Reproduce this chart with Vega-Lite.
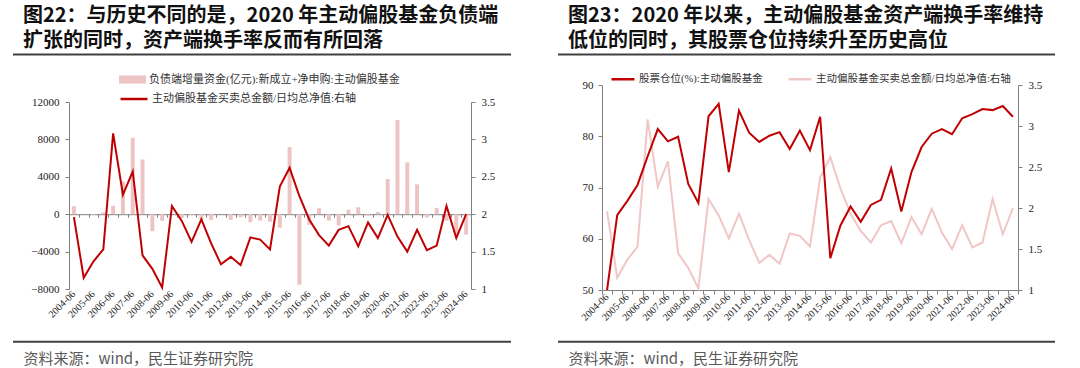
{
  "$schema": "https://vega.github.io/schema/vega-lite/v6.json",
  "padding": {"left": 12, "top": 6, "right": 4, "bottom": 2},
  "background": "white",
  "data": {"values": [
      {"date": "2004-06", "flow": 850, "turnover": 1.96, "position": 50.0},
      {"date": "2004-12", "flow": 0, "turnover": 1.15, "position": 64.6},
      {"date": "2005-06", "flow": -70, "turnover": 1.37, "position": 67.4},
      {"date": "2005-12", "flow": 180, "turnover": 1.53, "position": 70.5},
      {"date": "2006-06", "flow": 900, "turnover": 3.08, "position": 76.1},
      {"date": "2006-12", "flow": 3490, "turnover": 2.26, "position": 81.4},
      {"date": "2007-06", "flow": 8170, "turnover": 2.57, "position": 79.0},
      {"date": "2007-12", "flow": 5850, "turnover": 1.45, "position": 79.9},
      {"date": "2008-06", "flow": -1820, "turnover": 1.27, "position": 70.7},
      {"date": "2008-12", "flow": -700, "turnover": 1.02, "position": 67.0},
      {"date": "2009-06", "flow": 0, "turnover": 2.11, "position": 83.9},
      {"date": "2009-12", "flow": -400, "turnover": 1.91, "position": 86.3},
      {"date": "2010-06", "flow": -120, "turnover": 1.63, "position": 73.0},
      {"date": "2010-12", "flow": -600, "turnover": 1.93, "position": 85.0},
      {"date": "2011-06", "flow": -600, "turnover": 1.61, "position": 80.7},
      {"date": "2011-12", "flow": 0, "turnover": 1.33, "position": 78.9},
      {"date": "2012-06", "flow": -600, "turnover": 1.43, "position": 80.1},
      {"date": "2012-12", "flow": -320, "turnover": 1.32, "position": 80.8},
      {"date": "2013-06", "flow": -850, "turnover": 1.69, "position": 77.5},
      {"date": "2013-12", "flow": -680, "turnover": 1.66, "position": 81.1},
      {"date": "2014-06", "flow": -820, "turnover": 1.53, "position": 77.3},
      {"date": "2014-12", "flow": -1450, "turnover": 2.37, "position": 83.8},
      {"date": "2015-06", "flow": 7200, "turnover": 2.62, "position": 56.2},
      {"date": "2015-12", "flow": -7550, "turnover": 2.24, "position": 62.6},
      {"date": "2016-06", "flow": -1140, "turnover": 1.93, "position": 66.3},
      {"date": "2016-12", "flow": 640, "turnover": 1.72, "position": 63.3},
      {"date": "2017-06", "flow": -690, "turnover": 1.58, "position": 66.6},
      {"date": "2017-12", "flow": -1200, "turnover": 1.79, "position": 67.6},
      {"date": "2018-06", "flow": 480, "turnover": 1.84, "position": 73.7},
      {"date": "2018-12", "flow": 730, "turnover": 1.57, "position": 65.3},
      {"date": "2019-06", "flow": -180, "turnover": 1.89, "position": 73.0},
      {"date": "2019-12", "flow": 230, "turnover": 1.68, "position": 77.9},
      {"date": "2020-06", "flow": 3760, "turnover": 1.99, "position": 80.5},
      {"date": "2020-12", "flow": 10080, "turnover": 1.70, "position": 81.4},
      {"date": "2021-06", "flow": 5540, "turnover": 1.50, "position": 80.4},
      {"date": "2021-12", "flow": 3190, "turnover": 1.79, "position": 83.5},
      {"date": "2022-06", "flow": -350, "turnover": 1.52, "position": 84.3},
      {"date": "2022-12", "flow": 660, "turnover": 1.58, "position": 85.3},
      {"date": "2023-06", "flow": -700, "turnover": 2.11, "position": 85.1},
      {"date": "2023-12", "flow": -2140, "turnover": 1.68, "position": 85.9},
      {"date": "2024-06", "flow": -2170, "turnover": 2.00, "position": 83.8}
  ]},
  "config": {
    "view": {"stroke": null},
    "axis": {"labelFont": "Liberation Serif", "labelFontSize": 11, "labelColor": "#222222", "domainColor": "#808080", "tickColor": "#808080", "grid": false, "tickSize": 4},
    "legend": {"labelFont": "Liberation Serif, Noto Sans CJK SC", "labelFontSize": 11, "labelColor": "#333333", "labelLimit": 400}
  },
  "spacing": 45,
  "resolve": {
    "scale": {"color": "independent", "fill": "independent", "stroke": "independent"},
    "legend": {"color": "independent", "fill": "independent", "stroke": "independent"}
  },
  "hconcat": [
    {
      "width": 498,
      "height": 205,
      "title": {"text": ["图22：与历史不同的是，2020 年主动偏股基金负债端", "扩张的同时，资产端换手率反而有所回落"], "anchor": "start", "dx": 11, "fontSize": 20, "fontWeight": "bold", "color": "#111111", "lineHeight": 24.5, "offset": 3, "font": "Noto Sans CJK SC"},
      "layer": [
        {
          "data": {"values": [{"edge": 0}, {"edge": 1}]},
          "mark": {"type": "rule", "color": "#404040", "strokeWidth": 2},
          "encoding": {"y": {"field": "edge", "type": "quantitative", "scale": {"domain": [0, 1], "range": [256.7, -30.5]}, "axis": null}}
        },
        {
          "mark": {"type": "rule", "opacity": 0},
          "encoding": {"x": {"datum": 0, "type": "quantitative", "scale": {"domain": [0, 1]},
            "axis": {"orient": "bottom", "offset": 51.7, "domain": false, "ticks": false, "labels": false, "title": "资料来源：wind，民生证券研究院", "titleAnchor": "start", "titleAlign": "left", "titleBaseline": "middle", "titleX": 10, "titleY": 16.3, "titleFont": "Noto Sans CJK SC", "titleFontSize": 15, "titleFontWeight": "normal", "titleColor": "#595959"}}}
        },
        {
          "mark": {"type": "bar", "width": {"band": 0.4}},
          "encoding": {
            "x": {"field": "date", "type": "ordinal", "sort": null, "title": null,
              "scale": {"type": "band", "paddingInner": 0, "paddingOuter": 0, "range": [56, 458]},
              "axis": {"orient": "bottom", "offset": -1, "domain": false, "ticks": false, "labelAngle": -45, "labelAlign": "right", "labelBaseline": "middle", "labelFontSize": 10, "labelPadding": 3, "labelOverlap": false, "labelExpr": "indexof(datum.value, '-06') > 0 ? datum.value : ''"}},
            "y": {"field": "flow", "type": "quantitative", "title": null,
              "scale": {"domain": [-8000, 12000], "nice": false, "zero": false, "range": [204, 17]},
              "axis": {"orient": "left", "offset": -56, "values": [-8000, -4000, 0, 4000, 8000, 12000], "format": "d", "labelPadding": 6}},
            "fill": {"datum": "负债端增量资金(亿元):新成立+净申购:主动偏股基金", "type": "nominal",
              "scale": {"range": ["#EEC3C3"]},
              "legend": {"orient": "none", "legendX": 106, "legendY": -19, "title": null, "symbolType": "M-1,-0.3H1V0.3H-1Z", "symbolSize": 729, "symbolStrokeWidth": 0, "labelOffset": 3}}
          }
        },
        {
          "mark": {"type": "line", "strokeWidth": 2},
          "encoding": {
            "x": {"field": "date", "type": "ordinal", "sort": null, "bandPosition": 0.5, "title": null,
              "scale": {"type": "band", "paddingInner": 0, "paddingOuter": 0, "range": [56, 458]},
              "axis": {"orient": "bottom", "offset": -75.8, "labels": false, "domain": true, "ticks": true, "tickBand": "extent", "tickSize": 3}},
            "y": {"field": "turnover", "type": "quantitative", "title": null,
              "scale": {"domain": [1, 3.5], "nice": false, "zero": false, "range": [204, 17]},
              "axis": {"orient": "right", "offset": -40, "values": [1, 1.5, 2, 2.5, 3, 3.5], "format": "~g", "labelPadding": 6}},
            "stroke": {"datum": "主动偏股基金买卖总金额/日均总净值:右轴", "type": "nominal",
              "scale": {"range": ["#C00000"]},
              "legend": {"orient": "none", "legendX": 106, "legendY": -1, "title": null, "symbolType": "stroke", "symbolSize": 729, "symbolStrokeWidth": 2.5, "labelOffset": 3}}
          }
        }
      ],
      "resolve": {"scale": {"x": "independent", "y": "independent"}, "axis": {"x": "independent", "y": "independent"}}
    },
    {
      "width": 497,
      "height": 205,
      "title": {"text": ["图23：2020 年以来，主动偏股基金资产端换手率维持", "低位的同时，其股票仓位持续升至历史高位"], "anchor": "start", "dx": 11, "fontSize": 20, "fontWeight": "bold", "color": "#111111", "lineHeight": 24.5, "offset": 3, "font": "Noto Sans CJK SC"},
      "layer": [
        {
          "data": {"values": [{"edge": 0}, {"edge": 1}]},
          "mark": {"type": "rule", "color": "#404040", "strokeWidth": 2},
          "encoding": {"y": {"field": "edge", "type": "quantitative", "scale": {"domain": [0, 1], "range": [256.7, -30.5]}, "axis": null}}
        },
        {
          "mark": {"type": "rule", "opacity": 0},
          "encoding": {"x": {"datum": 0, "type": "quantitative", "scale": {"domain": [0, 1]},
            "axis": {"orient": "bottom", "offset": 51.7, "domain": false, "ticks": false, "labels": false, "title": "资料来源：wind，民生证券研究院", "titleAnchor": "start", "titleAlign": "left", "titleBaseline": "middle", "titleX": 10, "titleY": 16.3, "titleFont": "Noto Sans CJK SC", "titleFontSize": 15, "titleFontWeight": "normal", "titleColor": "#595959"}}}
        },
        {
          "mark": {"type": "line", "strokeWidth": 2},
          "encoding": {
            "x": {"field": "date", "type": "ordinal", "sort": null, "bandPosition": 0.5, "title": null,
              "scale": {"type": "band", "paddingInner": 0, "paddingOuter": 0, "range": [44, 460]},
              "axis": {"orient": "bottom", "domain": false, "ticks": false, "labelAngle": -45, "labelAlign": "right", "labelBaseline": "middle", "labelFontSize": 10, "labelPadding": 5, "labelOverlap": false, "labelExpr": "indexof(datum.value, '-06') > 0 ? datum.value : ''"}},
            "y": {"field": "turnover", "type": "quantitative", "title": null,
              "scale": {"domain": [1, 3.5], "nice": false, "zero": false},
              "axis": {"orient": "right", "offset": -37, "values": [1, 1.5, 2, 2.5, 3, 3.5], "format": "~g", "labelPadding": 6}},
            "color": {"datum": "主动偏股基金买卖总金额/日均总净值:右轴", "type": "nominal",
              "scale": {"domain": ["股票仓位(%):主动偏股基金", "主动偏股基金买卖总金额/日均总净值:右轴"], "range": ["#C00000", "#F0C6C6"]},
              "legend": {"orient": "none", "legendX": 52, "legendY": -19, "direction": "horizontal", "title": null, "symbolType": "stroke", "symbolSize": 529, "symbolStrokeWidth": 2.5, "columnPadding": 20, "labelOffset": 3, "labelFontSize": 10.5}}
          }
        },
        {
          "mark": {"type": "line", "strokeWidth": 2},
          "encoding": {
            "x": {"field": "date", "type": "ordinal", "sort": null, "bandPosition": 0.5, "title": null,
              "scale": {"type": "band", "paddingInner": 0, "paddingOuter": 0, "range": [44, 460]},
              "axis": {"orient": "bottom", "labels": false, "domain": true, "ticks": true, "tickBand": "extent", "tickSize": 4}},
            "y": {"field": "position", "type": "quantitative", "title": null,
              "scale": {"domain": [50, 90], "nice": false, "zero": false},
              "axis": {"orient": "left", "offset": -44, "values": [50, 60, 70, 80, 90], "labelPadding": 5}},
            "color": {"datum": "股票仓位(%):主动偏股基金", "type": "nominal"}
          }
        }
      ],
      "resolve": {"scale": {"x": "independent", "y": "independent"}, "axis": {"x": "independent", "y": "independent"}}
    }
  ]
}
